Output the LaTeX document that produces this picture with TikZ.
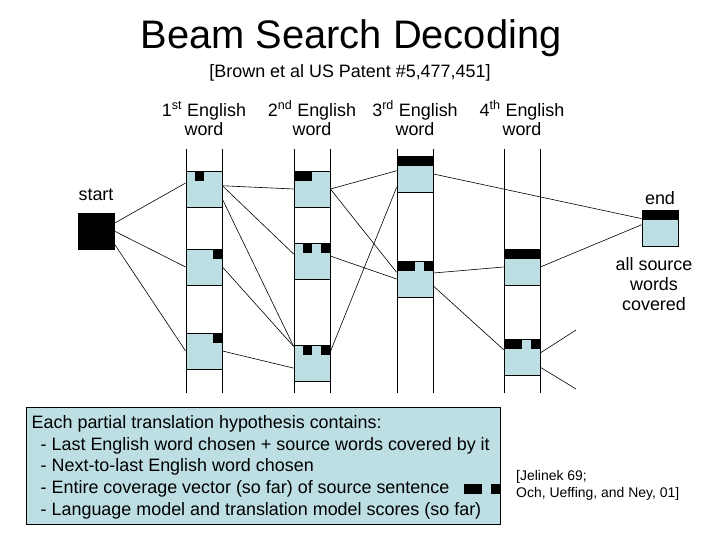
\documentclass[tikz,border=0pt]{standalone}
\usepackage{fontspec}
\setmainfont{Liberation Sans}
\definecolor{hypblue}{RGB}{189,223,228}

% black squares = source positions covered (4 positions, 9bp each)
\newcommand\cover[2]{\foreach \p in {#2}
  {\fill ([xshift={(\p-1)*9bp}]#1.north west) rectangle ++(9,10);}}

\begin{document}
\begin{tikzpicture}[x=1bp,y=-1bp,
  hyp/.style={draw,fill=hypblue,minimum size=36bp,inner sep=0pt,line width=0.8bp},
  edge/.style={line width=0.6bp},
  lbl/.style={font=\fontsize{18}{20}\selectfont,inner sep=0pt,align=center}]
\useasboundingbox (0,0) rectangle (720,540);

\node[font=\fontsize{40}{44}\selectfont,anchor=base,inner sep=0pt] (title) at (351,49) {Beam Search Decoding};
\node[lbl,anchor=base] (patent) at (350,78) {[Brown et al US Patent \#5,477,451]};

\foreach \x/\n/\s in {204/1/st,312/2/nd,415/3/rd,522/4/th}
  \node[lbl,anchor=base] (head\n) at (\x,136) {\n\textsuperscript{\s} English\\word};

% the four beams
\foreach \x in {186,294,397,504}
  \draw[line width=0.8bp] (\x,149) -- (\x,393) (\x+36,149) -- (\x+36,393);

\node[hyp] (h11) at (204,189) {};
\node[hyp] (h12) at (204,267) {};
\node[hyp] (h13) at (204,351) {};
\node[hyp] (h21) at (312,189) {};
\node[hyp] (h22) at (312,261) {};
\node[hyp] (h23) at (312,363.5) {};
\node[hyp] (h31) at (415,174) {};
\node[hyp] (h32) at (415,279) {};
\node[hyp] (h41) at (522,267) {};
\node[hyp] (h42) at (522,357.5) {};
\node[hyp] (finish) at (660,228) {};
\node[fill,minimum size=37bp,inner sep=0pt] (start) at (96.5,231.5) {};

\cover{h11}{2} \cover{h12}{4} \cover{h13}{4}
\cover{h21}{1,2} \cover{h22}{2,4} \cover{h23}{2,4}
\cover{h31}{1,2,3,4} \cover{h32}{1,2,4}
\cover{h41}{1,2,3,4} \cover{h42}{1,2,4}
\cover{finish}{1,2,3,4}

\node[lbl,anchor=base] (startlbl) at (96,201) {start};
\node[lbl,anchor=base] (endlbl) at (660,205) {end};
\node[lbl,anchor=base] (covlbl) at (654,310) {all source\\words\\covered};

\draw[edge] (start.25) -- (h11.162);
\draw[edge] (start.east) -- (h12.west);
\draw[edge] (start.-36) -- (h13.west);
\draw[edge] (h11.10) -- (h21.west);
\draw[edge] (h11.10) -- (h22.159);
\draw[edge] (h11.-29) -- (h23.137);
\draw[edge] (h12.east) -- (h23.137);
\draw[edge] (h13.east) -- (h23.194);
\draw[edge] (h21.east) -- (h31.170);
\draw[edge] (h21.east) -- (h32.160);
\draw[edge] (h22.15) -- (h32.west);
\draw[edge] (h23.33) -- (h31.216);
\draw[edge] (h31.east) -- (finish.153);
\draw[edge] (h32.18) -- (h41.west);
\draw[edge] (h32.-21) -- (h42.157);
\draw[edge] (h41.east) -- (finish.170);
\coordinate (up) at (576,330);
\coordinate (down) at (576,389);
\draw[edge] (h42.14) -- (up);
\draw[edge] (h42.-28) -- (down);

% legend box
\node[draw,fill=hypblue,line width=0.8bp,minimum width=474bp,minimum height=117bp,
  inner sep=0pt,anchor=north west] (notes) at (26,407) {};
\node[anchor=base west,align=left,inner sep=0pt,font=\fontsize{18}{21.7}\selectfont] (notetext) at (31.5,515)
  {Each partial translation hypothesis contains:\\
   \hspace*{9bp}- Last English word chosen + source words covered by it\\
   \hspace*{9bp}- Next-to-last English word chosen\\
   \hspace*{9bp}- Entire coverage vector (so far) of source sentence\\
   \hspace*{9bp}- Language model and translation model scores (so far)};
\fill (464,484) rectangle ++(18,10);
\fill (491,484) rectangle ++(9,10);

\node[anchor=base west,align=left,inner sep=0pt,font=\fontsize{14}{17.5}\selectfont] (cite) at (516,497.5)
  {[Jelinek 69;\\Och, Ueffing, and Ney, 01]};
\end{tikzpicture}
\end{document}
